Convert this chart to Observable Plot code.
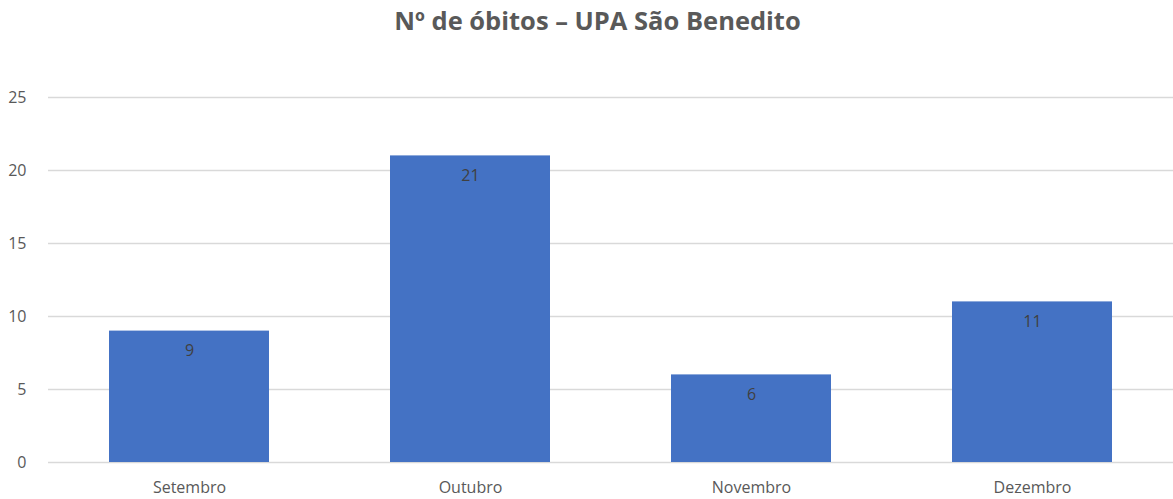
<!DOCTYPE html>
<html>
<head>
<meta charset="utf-8">
<script src="https://cdn.jsdelivr.net/npm/d3@7"></script>
<script src="https://cdn.jsdelivr.net/npm/@observablehq/plot@0.6"></script>
<style>
  body { margin: 0; background: #fff; font-family: "Open Sans", sans-serif; }
  #title { height: 40px; line-height: 40px; text-align: center; font-size: 25.5px; font-weight: bold; color: #595959; width: 1195px; }
</style>
</head>
<body>
<div id="title">Nº de óbitos – UPA São Benedito</div>
<div id="chart"></div>
<script>
const months = ["Setembro", "Outubro", "Novembro", "Dezembro"];
const deaths = [9, 21, 6, 11];
const yTicks = [0, 5, 10, 15, 20, 25];

const data = months.map((m, i) => ({month: m, value: deaths[i]}));

const chart = Plot.plot({
  width: 1173,
  height: 459,
  marginTop: 57,
  marginBottom: 37,
  marginLeft: 48,
  marginRight: 0,
  style: {fontFamily: "Open Sans, sans-serif", fontSize: "16px", color: "#595959", background: "#fff"},
  x: {domain: months, paddingInner: 0.43, paddingOuter: 0.215, label: null},
  y: {domain: [0, 25], ticks: yTicks, label: null},
  marks: [
    Plot.gridY(yTicks, {stroke: "#d9d9d9", strokeOpacity: 1, strokeWidth: 1.5}),
    Plot.axisY(yTicks, {tickSize: 0, tickPadding: 22, fill: "#595959", fontSize: 16, label: null}),
    Plot.axisX({tickSize: 0, tickPadding: 19, fill: "#595959", fontSize: 16, label: null}),
    Plot.barY(data, {x: "month", y: "value", fill: "#4472c4"}),
    Plot.text(data, {x: "month", y: "value", text: d => String(d.value), dy: 20, fill: "#404040", fontSize: 16})
  ]
});
document.getElementById("chart").appendChild(chart);
</script>
</body>
</html>
